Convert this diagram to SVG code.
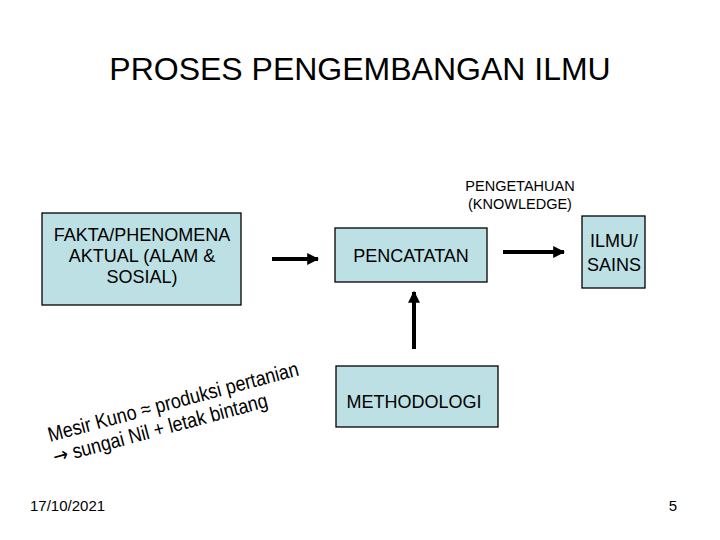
<svg xmlns="http://www.w3.org/2000/svg" width="720" height="540" viewBox="0 0 720 540">
<defs>
<style>
text{font-family:"Liberation Sans",Arial,sans-serif;fill:#000}
.box{fill:#bde0e4;stroke:#000;stroke-width:1.3}
.lbl{font-size:18px;text-anchor:middle}
.conn{stroke:#000;stroke-width:4;fill:none}
.arr{font-family:"DejaVu Sans",sans-serif}
</style>
<marker id="ah" viewBox="0 0 10 10" refX="9" refY="5" markerWidth="3" markerHeight="3" orient="auto" markerUnits="strokeWidth">
<path d="M0,0 L10,5 L0,10 z" fill="#000"/>
</marker>
</defs>
<rect width="720" height="540" fill="#fff"/>
<text x="360" y="80" font-size="32" text-anchor="middle">PROSES PENGEMBANGAN ILMU</text>
<g id="fakta">
<rect class="box" x="42" y="213" width="199" height="92"/>
<text class="lbl" x="142" y="241">FAKTA/PHENOMENA</text>
<text class="lbl" x="142" y="262">AKTUAL (ALAM &amp;</text>
<text class="lbl" x="142" y="283">SOSIAL)</text>
</g>
<g id="pencatatan">
<rect class="box" x="335" y="228" width="152" height="54"/>
<text class="lbl" x="411" y="262">PENCATATAN</text>
</g>
<g id="ilmu">
<rect class="box" x="582" y="216" width="63" height="72"/>
<text class="lbl" x="614" y="247">ILMU/</text>
<text class="lbl" x="614" y="271">SAINS</text>
</g>
<g id="methodologi">
<rect class="box" x="336" y="366" width="162" height="61"/>
<text class="lbl" x="414" y="408">METHODOLOGI</text>
</g>
<g id="pengetahuan">
<text x="520" y="191" font-size="14.5" text-anchor="middle">PENGETAHUAN</text>
<text x="520" y="209" font-size="14.5" text-anchor="middle">(KNOWLEDGE)</text>
</g>
<g id="connectors">
<line class="conn" x1="272" y1="259" x2="318" y2="259" marker-end="url(#ah)"/>
<line class="conn" x1="503" y1="252" x2="564" y2="252" marker-end="url(#ah)"/>
<line class="conn" x1="414" y1="349" x2="414" y2="292" marker-end="url(#ah)"/>
</g>
<g id="note" font-size="18">
<text transform="translate(50,442) rotate(-15) scale(1,1.15)">Mesir Kuno ≈ produksi pertanian</text>
<text transform="translate(55,464) rotate(-15) scale(1,1.15)"><tspan class="arr">→</tspan> sungai Nil + letak bintang</text>
</g>
<text x="30" y="511" font-size="15">17/10/2021</text>
<text x="677" y="511" font-size="15" text-anchor="end">5</text>
</svg>
